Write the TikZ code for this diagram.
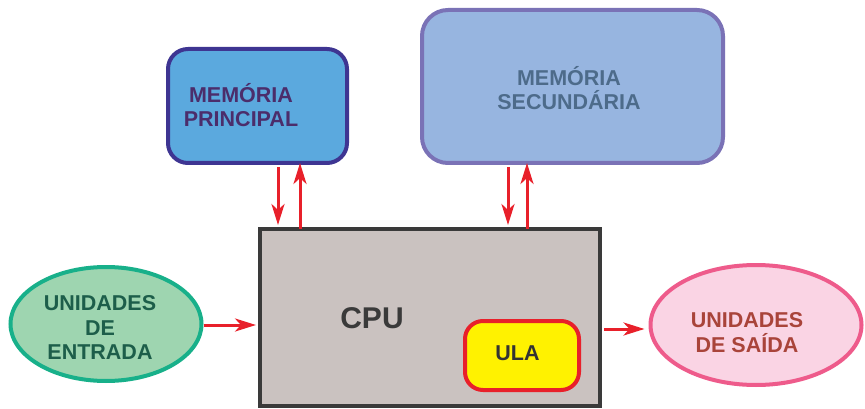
\documentclass[tikz,border=0pt]{standalone}
\usepackage{fontspec}
\setmainfont{Liberation Sans}
\usetikzlibrary{arrows.meta,shapes.geometric}
\definecolor{mpborder}{HTML}{3E3592}
\definecolor{mpfill}{HTML}{5BA9DE}
\definecolor{mptext}{HTML}{4B2D6B}
\definecolor{msborder}{HTML}{7A72B6}
\definecolor{msfill}{HTML}{97B5E0}
\definecolor{mstext}{HTML}{4D6B8A}
\definecolor{cpuborder}{HTML}{3A3A3A}
\definecolor{cpufill}{HTML}{CAC2C0}
\definecolor{ulaborder}{HTML}{E8202A}
\definecolor{ulafill}{HTML}{FFF200}
\definecolor{ulatext}{HTML}{333333}
\definecolor{inborder}{HTML}{18B08A}
\definecolor{infill}{HTML}{9ED5B0}
\definecolor{intext}{HTML}{1D5E4A}
\definecolor{outborder}{HTML}{EE5B8B}
\definecolor{outfill}{HTML}{FAD4E4}
\definecolor{outtext}{HTML}{A9443A}
\definecolor{arrred}{HTML}{E8202A}
\tikzset{
  shapebox/.style={rectangle, inner sep=0pt, line width=4pt},
  ovalbox/.style={ellipse, inner sep=0pt, line width=4pt},
  lbl/.style={font=\bfseries\fontsize{21.5}{24.5}\selectfont, align=center, inner sep=0pt},
  arr/.style={draw=arrred, line width=3pt, -{Stealth[length=21pt,width=13pt,inset=6pt]}},
}
\begin{document}
\begin{tikzpicture}[x=1pt,y=-1pt]
\useasboundingbox (0,0) rectangle (865,409);
% shapes
\node[shapebox, rounded corners=20pt, draw=mpborder, fill=mpfill, minimum width=179pt, minimum height=114pt] (mp) at (257.5,106) {};
\node[shapebox, rounded corners=26pt, draw=msborder, fill=msfill, minimum width=301pt, minimum height=153pt] (ms) at (572.5,86.5) {};
\node[shapebox, draw=cpuborder, fill=cpufill, minimum width=340pt, minimum height=177pt] (cpu) at (430,317.5) {};
\node[shapebox, rounded corners=18pt, draw=ulaborder, fill=ulafill, minimum width=114pt, minimum height=69pt] (ula) at (522,355.5) {};
\node[ovalbox, draw=inborder, fill=infill, minimum width=191pt, minimum height=114pt] (in) at (106,324) {};
\node[ovalbox, draw=outborder, fill=outfill, minimum width=211pt, minimum height=120pt] (out) at (756,325) {};
% texts
\node[lbl, text=mptext] (mptxt) at (241,105) {MEMÓRIA\\PRINCIPAL};
\node[lbl, text=mstext] (mstxt) at (569,88) {MEMÓRIA\\SECUNDÁRIA};
\node[lbl, text=cpuborder, font=\bfseries\fontsize{30}{34}\selectfont] (cputxt) at (372,318.5) {CPU};
\node[lbl, text=ulatext] (ulatxt) at (517.5,353.5) {ULA};
\node[lbl, text=intext] (intxt) at (100,327.5) {UNIDADES\\DE\\ENTRADA};
\node[lbl, text=outtext] (outtxt) at (747,332.5) {UNIDADES\\DE SAÍDA};
% connectors
\draw[arr] ([yshift=-2pt]mp.south -| 278,0) -- ([yshift=2pt]cpu.north -| 278,0);
\draw[arr] ([yshift=-2pt]cpu.north -| 300,0) -- ([yshift=2pt]mp.south -| 300,0);
\draw[arr] ([yshift=-2pt]ms.south -| 508,0) -- ([yshift=2pt]cpu.north -| 508,0);
\draw[arr] ([yshift=-2pt]cpu.north -| 527,0) -- ([yshift=2pt]ms.south -| 527,0);
\draw[arr] (in.east |- 0,325) -- ([xshift=-2pt]cpu.west |- 0,325);
\draw[arr] ([xshift=2pt]cpu.east |- 0,329) -- ([xshift=-4pt]out.west |- 0,329);
\end{tikzpicture}
\end{document}
